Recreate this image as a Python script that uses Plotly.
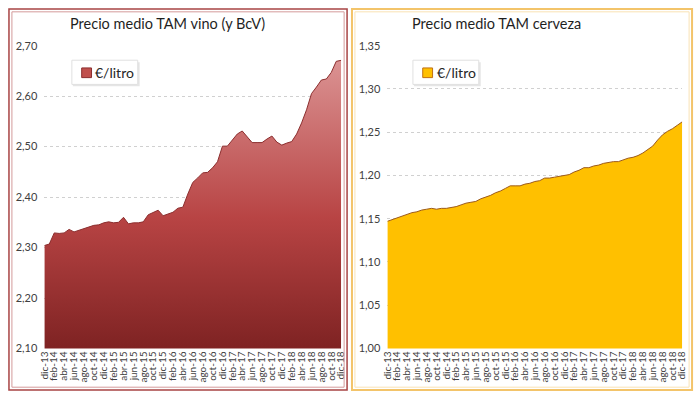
import plotly.graph_objects as go

mes = ["ene", "feb", "mar", "abr", "may", "jun", "jul", "ago", "sep", "oct", "nov", "dic"]
months = ["dic-13"] + [f"{m}-{y}" for y in range(14, 19) for m in mes]
tick_labels = months[::2]
series_name = "€/litro"

vino = [2.304, 2.307, 2.329, 2.328, 2.329, 2.336, 2.331, 2.334, 2.337, 2.340,
        2.344, 2.345, 2.349, 2.351, 2.349, 2.350, 2.360, 2.347, 2.349, 2.349,
        2.351, 2.365, 2.370, 2.374, 2.363, 2.367, 2.370, 2.378, 2.380, 2.406,
        2.429, 2.438, 2.448, 2.449, 2.458, 2.470, 2.501, 2.501, 2.514, 2.525,
        2.531, 2.519, 2.508, 2.508, 2.508, 2.515, 2.521, 2.509, 2.503, 2.507,
        2.510, 2.525, 2.547, 2.573, 2.605, 2.618, 2.632, 2.634, 2.647, 2.669,
        2.671]

cerveza = [1.147, 1.149, 1.151, 1.153, 1.155, 1.157, 1.158, 1.160, 1.161, 1.162,
           1.161, 1.162, 1.162, 1.163, 1.164, 1.166, 1.168, 1.169, 1.170, 1.173,
           1.175, 1.177, 1.180, 1.182, 1.185, 1.188, 1.188, 1.188, 1.190, 1.191,
           1.193, 1.194, 1.197, 1.197, 1.198, 1.199, 1.200, 1.201, 1.204, 1.206,
           1.209, 1.209, 1.211, 1.212, 1.214, 1.215, 1.216, 1.216, 1.218, 1.220,
           1.221, 1.223, 1.226, 1.230, 1.234, 1.241, 1.247, 1.251, 1.254, 1.258,
           1.262]

W, H = 700, 399
def px(x): return x / W
def py(y): return (H - y) / H

FONT = "Lato"
fig = go.Figure()

fig.add_trace(go.Scatter(
    x=months, y=vino, mode="lines", fill="tozeroy", name=series_name,
    line=dict(color="#8b2e2e", width=1),
    fillgradient=dict(type="vertical", start=2.10, stop=2.70,
                      colorscale=[[0, "#7a2020"], [0.45, "#b84444"], [1, "#de9a9a"]]),
    showlegend=False, xaxis="x", yaxis="y", hoverinfo="skip"))

fig.add_trace(go.Scatter(
    x=months, y=cerveza, mode="lines", fill="tozeroy", name=series_name,
    line=dict(color="#9c5a1c", width=1), fillcolor="#FFC000",
    showlegend=False, xaxis="x2", yaxis="y2", hoverinfo="skip"))

xcommon = dict(type="category", range=[0, 60], tickmode="array", tickvals=tick_labels,
               ticktext=tick_labels, tickangle=-90, tickfont=dict(family=FONT, size=10, color="#404040"),
               showgrid=False, zeroline=False, showline=False, ticks="", fixedrange=True)

def legend_box(x0, fill, edge):
    return [
        dict(type="rect", xref="paper", yref="paper", x0=px(x0 + 1), x1=px(x0 + 69), y0=py(82), y1=py(57),
             line=dict(width=0), fillcolor="rgba(0,0,0,0.10)"),
        dict(type="rect", xref="paper", yref="paper", x0=px(x0), x1=px(x0 + 67), y0=py(80), y1=py(55),
             line=dict(color="#e0e0e0", width=1), fillcolor="white"),
        dict(type="rect", xref="paper", yref="paper", x0=px(x0 + 10), x1=px(x0 + 20), y0=py(73), y1=py(63),
             line=dict(color=edge, width=1), fillcolor=fill),
    ]

fig.update_layout(
    width=W, height=H, autosize=False,
    margin=dict(l=0, r=0, t=0, b=0),
    paper_bgcolor="white", plot_bgcolor="white",
    separators=",.",
    showlegend=False,
    font=dict(family=FONT, color="#262626"),
    xaxis=dict(domain=[px(38), px(340)], anchor="y", **xcommon),
    xaxis2=dict(domain=[px(387), px(687)], anchor="y2", **xcommon),
    yaxis=dict(domain=[py(353), py(40)], range=[2.10, 2.70], dtick=0.1, tick0=2.10,
               tickformat=".2f", showgrid=True, gridcolor="#d0d0d0", griddash="dot",
               zeroline=False, showline=False, ticks="", ticklabelstandoff=6,
               tickfont=dict(family=FONT, size=11, color="#404040"), anchor="x"),
    yaxis2=dict(domain=[py(353), py(40)], range=[1.00, 1.35], dtick=0.05, tick0=1.00,
                tickformat=".2f", showgrid=True, gridcolor="#d0d0d0", griddash="dot",
                zeroline=False, showline=False, ticks="", ticklabelstandoff=6,
                tickfont=dict(family=FONT, size=11, color="#404040"), anchor="x2"),
    annotations=[
        dict(text="Precio medio TAM vino (y BcV)", x=px(163), y=py(17), xref="paper", yref="paper",
             showarrow=False, font=dict(family=FONT, size=14.5, color="#1f1f1f"), xanchor="center", yanchor="middle"),
        dict(text="Precio medio TAM cerveza", x=px(498), y=py(17), xref="paper", yref="paper",
             showarrow=False, font=dict(family=FONT, size=14.5, color="#1f1f1f"), xanchor="center", yanchor="middle"),
        dict(text=series_name, x=px(88), y=py(68), xref="paper", yref="paper",
             showarrow=False, font=dict(family=FONT, size=14, color="#262626"), xanchor="left", yanchor="middle"),
        dict(text=series_name, x=px(435), y=py(68), xref="paper", yref="paper",
             showarrow=False, font=dict(family=FONT, size=14, color="#262626"), xanchor="left", yanchor="middle"),
    ],
    shapes=[
        dict(type="rect", xref="paper", yref="paper", x0=px(2), x1=px(346), y0=py(396), y1=py(2),
             line=dict(color="#a84444", width=1.5), layer="above"),
        dict(type="rect", xref="paper", yref="paper", x0=px(5), x1=px(343), y0=py(393), y1=py(5),
             line=dict(color="#d49a9a", width=1), layer="above"),
        dict(type="rect", xref="paper", yref="paper", x0=px(351), x1=px(697), y0=py(396), y1=py(2),
             line=dict(color="#f3c46a", width=2), layer="above"),
        dict(type="rect", xref="paper", yref="paper", x0=px(354), x1=px(694), y0=py(393), y1=py(5),
             line=dict(color="#f9e2b4", width=1), layer="above"),
    ] + [dict(s, layer="above") for s in legend_box(66, "#c0504d", "#8b2e2e")]
      + [dict(s, layer="above") for s in legend_box(413, "#FFC000", "#c07010")],
)

post = (
    "var gd=document.getElementById('{plot_id}');"
    "document.documentElement.style.margin='0';document.documentElement.style.overflow='hidden';"
    "document.body.style.margin='0';document.body.style.overflow='hidden';"
    "gd.style.position='fixed';gd.style.left='0px';gd.style.top='0px';"
)
fig.write_html("out.html", config={"displayModeBar": False, "staticPlot": True}, post_script=post)
